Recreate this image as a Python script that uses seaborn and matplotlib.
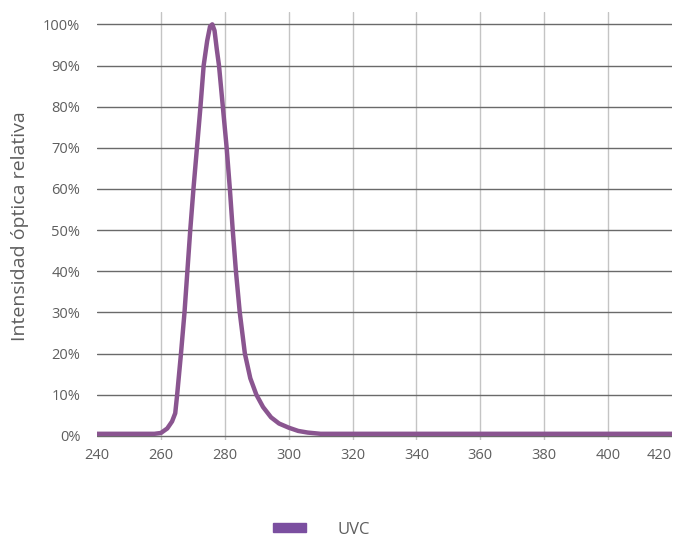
import matplotlib
matplotlib.use('Agg')
import matplotlib.pyplot as plt
import matplotlib.patches as mpatches
from matplotlib.ticker import FuncFormatter
import seaborn as sns
import pandas as pd

# wavelength (nm) and relative optical intensity (%)
wavelength = [240, 250, 258, 260, 262, 263.5, 264.5, 265.1, 266.3, 267.4, 268.3, 269.2,
              270.2, 271.3, 272.4, 273.4, 274.5, 275.4, 276.1, 276.8, 277.5, 278.2,
              279.4, 280.6, 281.6, 282.5, 283.5, 284.7, 286.3, 288.0, 289.9, 292.0,
              294.5, 297.0, 300.0, 303.0, 306.0, 310.0, 315.0, 320.0, 360.0, 420.0]
intensity = [0.5, 0.5, 0.5, 0.7, 1.8, 3.5, 5.5, 10, 20, 30, 40, 50,
             60, 70, 80, 90, 96, 99.5, 100, 98.5, 94, 90,
             80, 70, 60, 50, 40, 30, 20, 14, 10, 7,
             4.5, 3.0, 2.0, 1.2, 0.8, 0.5, 0.5, 0.5, 0.5, 0.5]
series_name = 'UVC'
x_ticks = list(range(240, 421, 20))
y_ticks = list(range(0, 101, 10))

df = pd.DataFrame({'wavelength': wavelength, 'intensity': intensity})

sns.set_style('white')
plt.rcParams['font.family'] = ['Open Sans', 'DejaVu Sans']
text_color = '#5e5e5e'
line_color = '#8a5590'

fig = plt.figure(figsize=(6.81, 5.39), dpi=100)
ax = fig.add_axes([0.1424, 0.1837, 0.8443, 0.794])

sns.lineplot(data=df, x='wavelength', y='intensity', ax=ax, color=line_color,
             linewidth=3.2, legend=False)

ax.set_xlim(240, 420)
ax.set_ylim(-1, 103)
ax.set_xticks(x_ticks)
ax.set_yticks(y_ticks)
ax.yaxis.set_major_formatter(FuncFormatter(lambda v, p: f'{int(v)}%'))
ax.tick_params(axis='both', length=0, labelsize=10.5, labelcolor=text_color)
ax.tick_params(axis='y', pad=12)
ax.tick_params(axis='x', pad=6)
ax.get_xticklabels()[-1].set_horizontalalignment('right')

ax.grid(axis='y', color='#6a6a6a', linewidth=1.0)
ax.grid(axis='x', color='#c4c4c4', linewidth=1.0)
xg = ax.get_xgridlines()
xg[0].set_visible(False)
xg[-1].set_visible(False)
ax.set_axisbelow(True)
for s in ax.spines.values():
    s.set_visible(False)

ax.set_xlabel('')
ax.set_ylabel('Intensidad óptica relativa', fontsize=14, color=text_color, labelpad=10)

handle = mpatches.Patch(color='#7b4fa0', label=series_name)
fig.legend(handles=[handle], loc='center', bbox_to_anchor=(0.472, 0.017),
           frameon=False, fontsize=12, labelcolor=text_color,
           handlelength=2.0, handleheight=0.45, handletextpad=1.9)

fig.savefig('out.png', dpi=100)
